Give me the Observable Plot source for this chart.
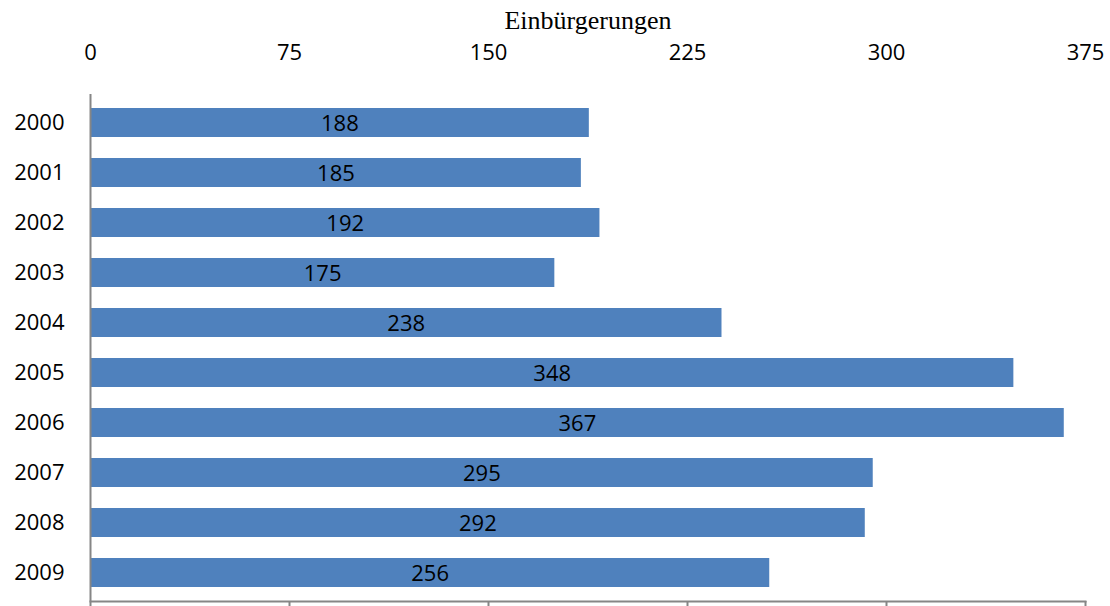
<!DOCTYPE html>
<html>
<head>
<meta charset="utf-8">
<script src="https://cdn.jsdelivr.net/npm/d3@7"></script>
<script src="https://cdn.jsdelivr.net/npm/@observablehq/plot@0.6"></script>
<style>
  html, body { margin: 0; padding: 0; background: #fff; }
  #chart svg { display: block; }
</style>
</head>
<body>
<div id="chart"></div>
<script>
const years = ["2000","2001","2002","2003","2004","2005","2006","2007","2008","2009"];
const values = [188, 185, 192, 175, 238, 348, 367, 295, 292, 256];
const xTicks = [0, 75, 150, 225, 300, 375];
const title = "Einbürgerungen";

const data = years.map((y, i) => ({year: y, value: values[i]}));
const axisColor = "#868686";
const font = "'Open Sans', 'Noto Sans', sans-serif";

const chart = Plot.plot({
  width: 1110,
  height: 606,
  marginLeft: 90,
  marginRight: 25,
  marginTop: 94,
  marginBottom: 5,
  style: {fontFamily: font, fontSize: "22px", color: "#000", background: "#fff"},
  x: {domain: [0, 375]},
  y: {domain: years, paddingInner: 0.43, paddingOuter: 0.215},
  marks: [
    Plot.barX(data, {x: "value", y: "year", fill: "#4F81BD"}),
    Plot.text(data, {x: d => d.value / 2, y: "year", text: d => String(d.value), fill: "#000", fontSize: 22, dy: 1}),
    Plot.ruleX([0], {stroke: axisColor, strokeWidth: 2}),
    Plot.frame({anchor: "bottom", stroke: axisColor, strokeWidth: 2}),
    Plot.axisX({anchor: "top", ticks: xTicks, tickSize: 0, tickPadding: 35, label: null, fontSize: 22}),
    Plot.axisX({anchor: "bottom", ticks: xTicks, tickSize: 5, tickFormat: () => "", stroke: axisColor, strokeWidth: 2, label: null}),
    Plot.axisY({anchor: "left", tickSize: 0, tickPadding: 26, label: null, fontSize: 22}),
    Plot.text([title], {frameAnchor: "top", lineAnchor: "middle", dy: -74, fontFamily: "'Liberation Serif', 'DejaVu Serif', serif", fontSize: 26, fill: "#000"})
  ]
});
document.getElementById("chart").appendChild(chart);
</script>
</body>
</html>
